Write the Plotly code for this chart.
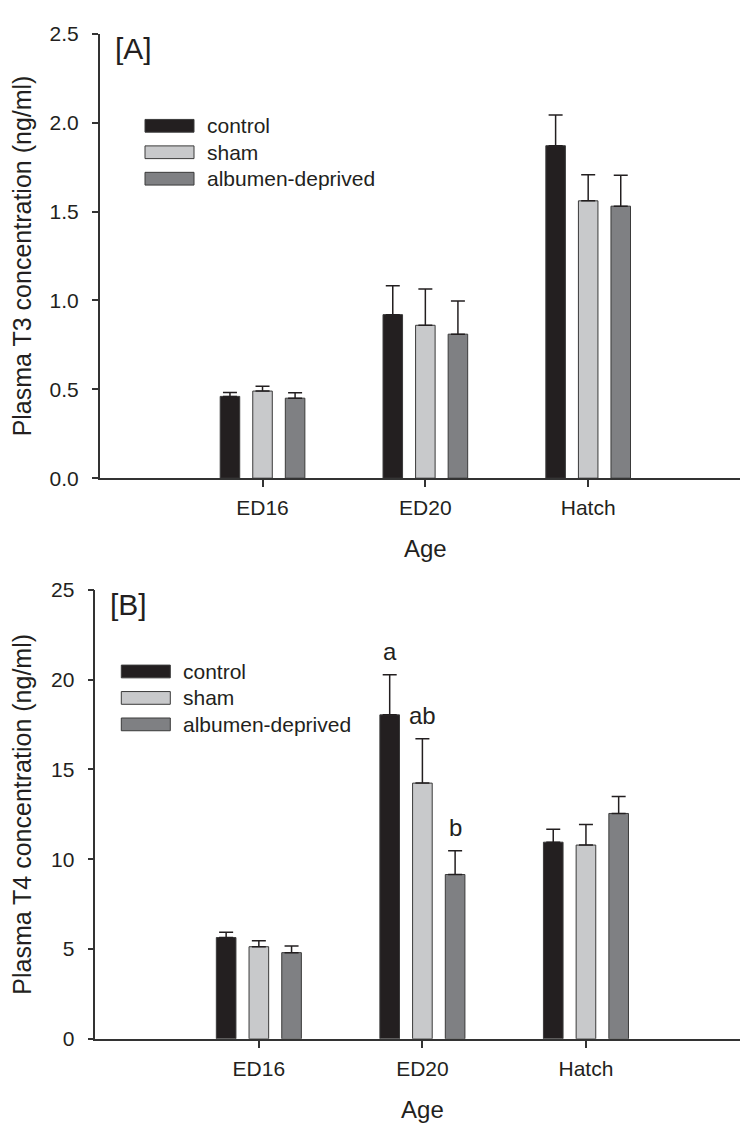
import plotly.graph_objects as go

# ---------------- data ----------------
ages = ["ED16", "ED20", "Hatch"]
groups = ["control", "sham", "albumen-deprived"]

t3_control = [0.46, 0.92, 1.87]
t3_sham = [0.49, 0.86, 1.56]
t3_albumen = [0.45, 0.81, 1.53]
t3_control_se = [0.022, 0.162, 0.173]
t3_sham_se = [0.027, 0.204, 0.147]
t3_albumen_se = [0.031, 0.186, 0.174]

t4_control = [5.64, 18.04, 10.95]
t4_sham = [5.13, 14.24, 10.79]
t4_albumen = [4.80, 9.15, 12.55]
t4_control_se = [0.29, 2.24, 0.72]
t4_sham_se = [0.33, 2.47, 1.14]
t4_albumen_se = [0.37, 1.32, 0.94]

t4_letters_control = ["", "a", ""]
t4_letters_sham = ["", "ab", ""]
t4_letters_albumen = ["", "b", ""]

t3_ticks = [0.0, 0.5, 1.0, 1.5, 2.0, 2.5]
t4_ticks = [0, 5, 10, 15, 20, 25]

# ---------------- style ----------------
W, H = 748, 1131
FONT = "Liberation Sans, Arial, sans-serif"
INK = "#231f20"
colors = ["#231f20", "#c8c9cb", "#7f8083"]
BAR_W = 0.12
offsets = [-0.26, -0.06, 0.14]

# plot boxes in pixels (left, right, top, bottom)
box_top = (91.7, 743.0, 14.0, 467.7)
box_bot = (87.3, 741.5, 581.7, 1040.0)


def xdom(b):
    return [b[0] / W, b[1] / W]


def ydom(b):
    return [1 - b[3] / H, 1 - b[2] / H]


fig = go.Figure()

panels = [
    ("x", "y", [t3_control, t3_sham, t3_albumen],
     [t3_control_se, t3_sham_se, t3_albumen_se], None),
    ("x2", "y2", [t4_control, t4_sham, t4_albumen],
     [t4_control_se, t4_sham_se, t4_albumen_se],
     [t4_letters_control, t4_letters_sham, t4_letters_albumen]),
]

annotations = []
shapes = []

for xa, ya, means, ses, letters in panels:
    for i, g in enumerate(groups):
        fig.add_trace(go.Bar(
            x=ages, y=means[i], name=g, width=BAR_W, offset=offsets[i],
            xaxis=xa, yaxis=ya, showlegend=False,
            marker=dict(color=colors[i], line=dict(color="#3a3a3a", width=1)),
            error_y=dict(type="data", array=ses[i], arrayminus=[0] * len(ses[i]),
                         symmetric=False, color=INK, thickness=1.5, width=7),
        ))
        if letters:
            for j, lab in enumerate(letters[i]):
                if lab:
                    annotations.append(dict(
                        x=j + offsets[i] + BAR_W / 2, y=means[i][j] + ses[i][j],
                        xref=xa, yref=ya, text=lab, showarrow=False,
                        yanchor="bottom", yshift=8,
                        font=dict(family=FONT, size=24, color=INK)))

# panel labels
for xa, ya, lab, top in [("x", "y", "[A]", 2.5), ("x2", "y2", "[B]", 25)]:
    annotations.append(dict(x=-0.92, y=top, xref=xa, yref=ya, text=lab,
                            showarrow=False, xanchor="left", yanchor="top",
                            yshift=4,
                            font=dict(family=FONT, size=30, color=INK)))

# legends (swatch + label), positioned in pixels
legend_pos = [(box_top, 137.0, 108.0), (box_bot, 113.3, 665.0)]
for box, sx, sy in legend_pos:
    for i, g in enumerate(groups):
        cy = sy + i * 27.0
        shapes.append(dict(type="rect", xref="paper", yref="paper",
                           x0=sx / W, x1=(sx + 49) / W,
                           y0=1 - (cy + 6.5) / H, y1=1 - (cy - 6.5) / H,
                           fillcolor=colors[i], line=dict(color="#3a3a3a", width=1)))
        annotations.append(dict(x=(sx + 60) / W, y=1 - cy / H, xref="paper", yref="paper",
                                text=g, showarrow=False, xanchor="left", yanchor="middle",
                                font=dict(family=FONT, size=21, color=INK)))

axis_common = dict(showline=True, linecolor="#333333", linewidth=1.5, ticks="outside",
                   tickcolor="#333333", tickwidth=1.5, showgrid=False, zeroline=False,
                   tickfont=dict(family=FONT, size=21, color=INK))

xt = dict(text="Age", font=dict(family=FONT, size=24, color=INK), standoff=22)

fig.update_layout(
    width=W, height=H, autosize=False,
    margin=dict(l=0, r=0, t=0, b=0),
    paper_bgcolor="white", plot_bgcolor="white",
    barmode="overlay", showlegend=False,
    annotations=annotations, shapes=shapes,
    xaxis=dict(domain=xdom(box_top), anchor="y", range=[-1, 3], ticklen=7,
               ticklabelstandoff=3,
               type="category", categoryorder="array", categoryarray=ages,
               title=xt, **axis_common),
    yaxis=dict(domain=ydom(box_top), anchor="x", range=[0, 2.5], tickvals=t3_ticks,
               tickformat=".1f", ticklen=6, ticklabelstandoff=9,
               title=dict(text="Plasma T3 concentration (ng/ml)",
                          font=dict(family=FONT, size=25, color=INK), standoff=14),
               **axis_common),
    xaxis2=dict(domain=xdom(box_bot), anchor="y2", range=[-1, 3], ticklen=7,
                ticklabelstandoff=3,
                type="category", categoryorder="array", categoryarray=ages,
                title=xt, **axis_common),
    yaxis2=dict(domain=ydom(box_bot), anchor="x2", range=[0, 25], tickvals=t4_ticks,
                ticklen=6, ticklabelstandoff=9,
                title=dict(text="Plasma T4 concentration (ng/ml)",
                           font=dict(family=FONT, size=25, color=INK), standoff=14),
                **axis_common),
)

fig.write_html("out.html")
